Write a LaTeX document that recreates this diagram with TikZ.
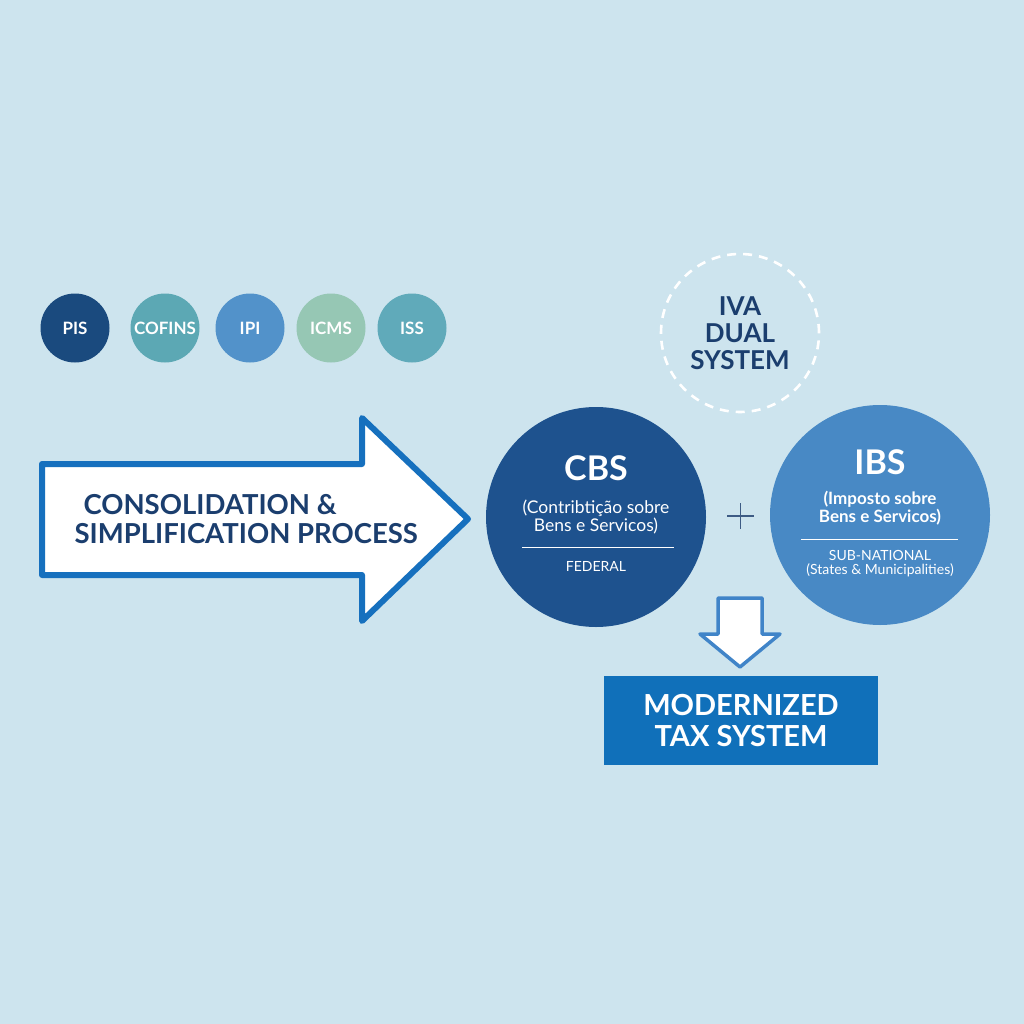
\documentclass[tikz,border=0pt]{standalone}
\usepackage{fontspec}
\setmainfont{Lato}
\usetikzlibrary{shapes.geometric}
\definecolor{bg}{RGB}{205,228,238}
\definecolor{navy}{RGB}{27,62,110}
\definecolor{pis}{RGB}{26,74,126}
\definecolor{cofins}{RGB}{92,168,180}
\definecolor{ipi}{RGB}{82,146,202}
\definecolor{icms}{RGB}{150,199,180}
\definecolor{iss}{RGB}{96,170,186}
\definecolor{arrowblue}{RGB}{22,112,190}
\definecolor{cbs}{RGB}{30,82,142}
\definecolor{ibs}{RGB}{72,137,197}
\definecolor{downblue}{RGB}{64,132,200}
\definecolor{boxblue}{RGB}{16,112,186}
\newcommand{\fsz}[1]{\fontsize{#1pt}{1.2\dimexpr #1pt\relax}\selectfont}
\tikzset{
  taxdot/.style={circle, minimum size=69pt, inner sep=0pt, text=white, font=\bfseries\fsz{17}},
  bigdot/.style={circle, minimum size=220pt, inner sep=0pt, text=white},
}
\begin{document}
\begin{tikzpicture}[x=1pt,y=-1pt]
\fill[bg] (0,0) rectangle (1024,1024);
\useasboundingbox (0,0) rectangle (1024,1024);

% small tax circles
\node[taxdot, fill=pis] (pis) at (75,328) {PIS};
\node[taxdot, fill=cofins] (cofins) at (165,328) {COFINS};
\node[taxdot, fill=ipi] (ipi) at (250,328) {IPI};
\node[taxdot, fill=icms] (icms) at (331,328) {ICMS};
\node[taxdot, fill=iss] (iss) at (412,328) {ISS};

% big arrow
\draw[arrowblue, line width=6pt, fill=white, line join=round]
  (42,464) -- (362,464) -- (362,418) -- (468,519) -- (362,621) -- (362,575) -- (42,575) -- cycle;
\node[text=navy, font=\bfseries\fsz{27.5}, align=left, anchor=west] (proc) at (71,519)
  {\hspace*{9pt}CONSOLIDATION \&\\[-4pt]SIMPLIFICATION PROCESS};

% IVA dashed circle
\node[circle, draw=white, line width=2.6pt, dash pattern=on 9pt off 7pt, minimum size=158pt, inner sep=0pt,
  text=navy, font=\bfseries\fsz{26}, align=center] (iva) at (740,333)
  {IVA\\[-4pt]DUAL\\[-4pt]SYSTEM};

% CBS & IBS circles
\node[bigdot, fill=cbs] (cbs) at (596,517) {};
\node[bigdot, fill=ibs] (ibs) at (880,515) {};

\node[text=white, font=\bfseries\fsz{34}] (cbst) at (596,468) {CBS};
\node[text=white, font=\fsz{17.5}, align=center] (cbsd) at (596,517) {(Contribtição sobre\\[-3pt]Bens e Servicos)};
\draw[white, line width=1pt] (522,547) coordinate (cl1) -- (674,547) coordinate (cl2);
\node[text=white, font=\fsz{14}] (fed) at (596,566) {FEDERAL};

\node[text=white, font=\bfseries\fsz{34}] (ibst) at (880,462) {IBS};
\node[text=white, font=\bfseries\fsz{17}, align=center] (ibsd) at (880,508) {(Imposto sobre\\[-3pt]Bens e Servicos)};
\draw[white, line width=1pt] (801,539) coordinate (il1) -- (958,539) coordinate (il2);
\node[text=white, font=\fsz{14}, align=center] (sub) at (880,564) {SUB-NATIONAL\\[-3pt](States \& Municipalities)};

% plus
\draw[navy!85, line width=1.8pt] (727,516) coordinate (p1) -- (754,516) coordinate (p2);
\draw[navy!85, line width=1.8pt] (740.5,503) coordinate (p3) -- (740.5,529) coordinate (p4);

% down arrow
\draw[downblue, line width=3.5pt, fill=white, line join=round]
  (718,598) -- (762,598) -- (762,634) -- (780,634) -- (740,667) -- (700,634) -- (718,634) -- cycle;

% result box
\node[fill=boxblue, minimum width=274pt, minimum height=89pt, inner sep=0pt,
  text=white, font=\bfseries\fsz{29}, align=center] (mod) at (741,720.5)
  {MODERNIZED\\[-4pt]TAX SYSTEM};
\end{tikzpicture}
\end{document}
